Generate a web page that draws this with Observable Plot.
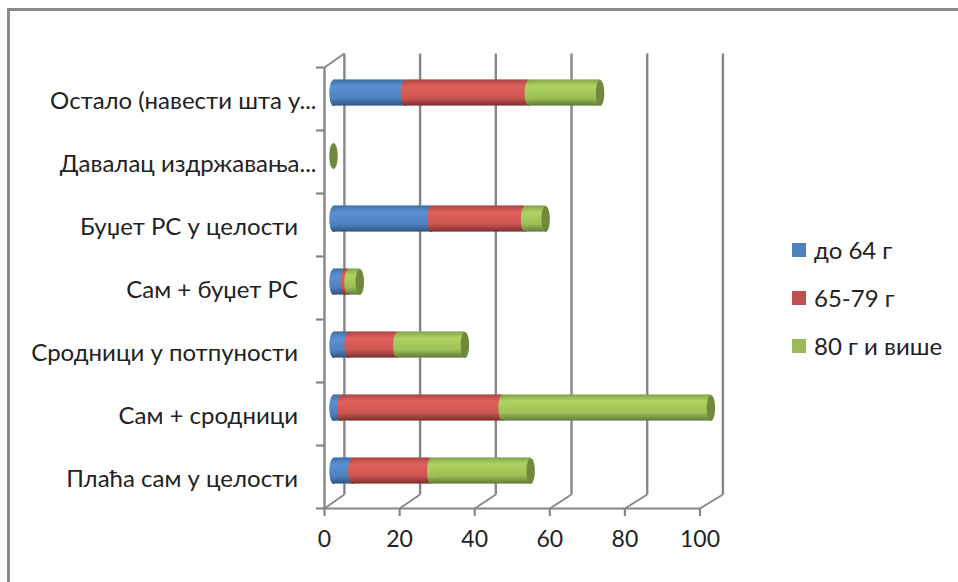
<!DOCTYPE html>
<html><head><meta charset="utf-8">
<script src="https://cdn.jsdelivr.net/npm/d3@7"></script>
<script src="https://cdn.jsdelivr.net/npm/@observablehq/plot@0.6"></script>
<style>
html,body{margin:0;padding:0;background:#fff;width:958px;height:582px;overflow:hidden}
#chart{position:absolute;left:0;top:0}
#legend{position:absolute;left:792px;top:230px;font-family:"Lato","Open Sans",sans-serif;font-size:24px;color:#222}
#legend div{position:absolute;white-space:nowrap;height:30px;line-height:30px}
#legend i{position:absolute;left:0;top:8px;width:14px;height:14px}
#legend span{position:absolute;left:22px}
#frame{position:absolute;left:7px;top:8px;width:970px;height:600px;border:3px solid #8a8a8a;box-sizing:border-box}
</style></head><body>
<div id="frame"></div>
<div id="chart"></div>
<div id="legend"></div>
<script>
const categories = ["Плаћа сам у целости","Сам + сродници","Сродници у потпуности","Сам + буџет РС","Буџет РС у целости","Давалац издржавања...","Остало (навести шта у..."];
const labelPad = ["\u00a0\u00a0\u00a0","\u00a0\u00a0\u00a0","\u00a0\u00a0\u00a0","\u00a0\u00a0\u00a0","\u00a0\u00a0\u00a0","",""];
const seriesNames = ["до 64 г","65-79 г","80 г и више"];
const do64   = [5, 2, 4, 3, 26, 0, 19];
const s6579  = [21, 43, 13, 1, 25, 0, 33];
const s80    = [26.5, 55.5, 18, 3, 5.5, 0, 19];
const xTicks = [0,20,40,60,80,100];
const gridColor = "#868686";
const fills = ["url(#g0)","url(#g1)","url(#g2)"];
const legendColors = ["#4f81bd","#c0504d","#9bbb59"];
const ramps = [
  ["#3f6fa6","#5a90d2","#4f82c2","#2f5580"],
  ["#a84543","#e0605c","#cd5551","#7c2f2d"],
  ["#86a34c","#aed362","#9cc055","#62793a"]
];
const depthX = 5.3, depthY = 0.222, backStretch = 1.008;   // oblique depth of the 3-D box, in data units
const backX = d => d*backStretch + depthX;

const rows = categories.map((c,i)=>({c,i}));
const segs = [];
rows.forEach(r=>{
  let a=0;
  [do64,s6579,s80].forEach((arr,k)=>{
    segs.push({i:r.i,k,x1:a,x2:a+arr[r.i]});
    a+=arr[r.i];
  });
});
const ends = rows.map(r=>({i:r.i,x:do64[r.i]+s6579[r.i]+s80[r.i]}));
const ellipse = {draw(ctx,size){
  const rx=4.2, ry=13;
  const n=32;
  for(let j=0;j<=n;j++){const t=j/n*2*Math.PI;const X=rx*Math.cos(t),Y=ry*Math.sin(t);j?ctx.lineTo(X,Y):ctx.moveTo(X,Y);}
  ctx.closePath();
}};
const FONT='"Lato","Open Sans",sans-serif';
const barDx=9, barDy=-6;
const marks=[
  // back wall
  Plot.link(xTicks,{x1:backX,x2:backX,y1:depthY,y2:7+depthY,stroke:gridColor,strokeWidth:2.4}),
  // floor diagonals
  Plot.link(xTicks,{x1:d=>d,x2:backX,y1:0,y2:depthY,stroke:gridColor,strokeWidth:1.8}),
  Plot.link([0],{x1:d=>d,x2:backX,y1:7,y2:7+depthY,stroke:gridColor,strokeWidth:1.8}),
  // front axis lines
  Plot.ruleY([0],{stroke:gridColor,strokeWidth:2.2}),
  Plot.ruleX([0],{y1:0,y2:7,stroke:gridColor,strokeWidth:2.4}),
  // ticks
  Plot.axisY(d3.range(8),{tickSize:8,tickFormat:()=>"",stroke:gridColor,strokeWidth:2.2,label:null}),
  Plot.axisX(xTicks,{tickSize:8,tickPadding:14,fontSize:23,fontFamily:FONT,stroke:gridColor,strokeWidth:2.2,label:null,color:"#222"})
];
// one rect and one rounded cap per stack part, so each part overlaps its neighbour
[0,1,2].forEach(k=>{
  const d=segs.filter(s=>s.k===k);
  marks.push(Plot.rectX(d,{x1:"x1",x2:"x2",y1:s=>s.i,y2:s=>s.i+1,insetTop:18.4,insetBottom:18.4,fill:fills[k],dx:barDx,dy:barDy}));
});
[0,1,2].forEach(k=>{
  const d=segs.filter(s=>s.k===k && s.x2>s.x1);
  marks.push(Plot.dot(d,{x:"x1",y:s=>s.i+.5,r:13,symbol:ellipse,fill:fills[k],stroke:null,dx:barDx,dy:barDy}));
});
marks.push(Plot.dot(ends,{x:"x",y:s=>s.i+.5,r:13,symbol:ellipse,fill:"#6e8a3c",stroke:null,dx:barDx,dy:barDy}));
marks.push(Plot.text(rows,{x:0,y:r=>r.i+.5,text:r=>r.c+labelPad[r.i],textAnchor:"end",dx:-8,dy:2,fontSize:24,fontFamily:FONT,fill:"#222"}));

const svg=Plot.plot({
  width:958,height:582,
  marginLeft:324,marginRight:258.5,marginTop:67,marginBottom:74,
  style:{background:"transparent",overflow:"visible"},
  x:{domain:[0,100],axis:null},
  y:{domain:[0,7],axis:null},
  marks
});
const defs=d3.select(svg).insert("defs",":first-child");
ramps.forEach((r,i)=>{
  const g=defs.append("linearGradient").attr("id","g"+i).attr("x1",0).attr("x2",0).attr("y1",0).attr("y2",1);
  [0,.25,.7,1].forEach((o,j)=>g.append("stop").attr("offset",o).attr("stop-color",r[j]));
});
document.getElementById("chart").appendChild(svg);
const lg=d3.select("#legend");
seriesNames.forEach((n,i)=>{
  const row=lg.append("div").style("top",(i*48+5)+"px").style("left","0");
  row.append("i").style("background",legendColors[i]);
  row.append("span").text(n);
});
</script>
</body></html>
